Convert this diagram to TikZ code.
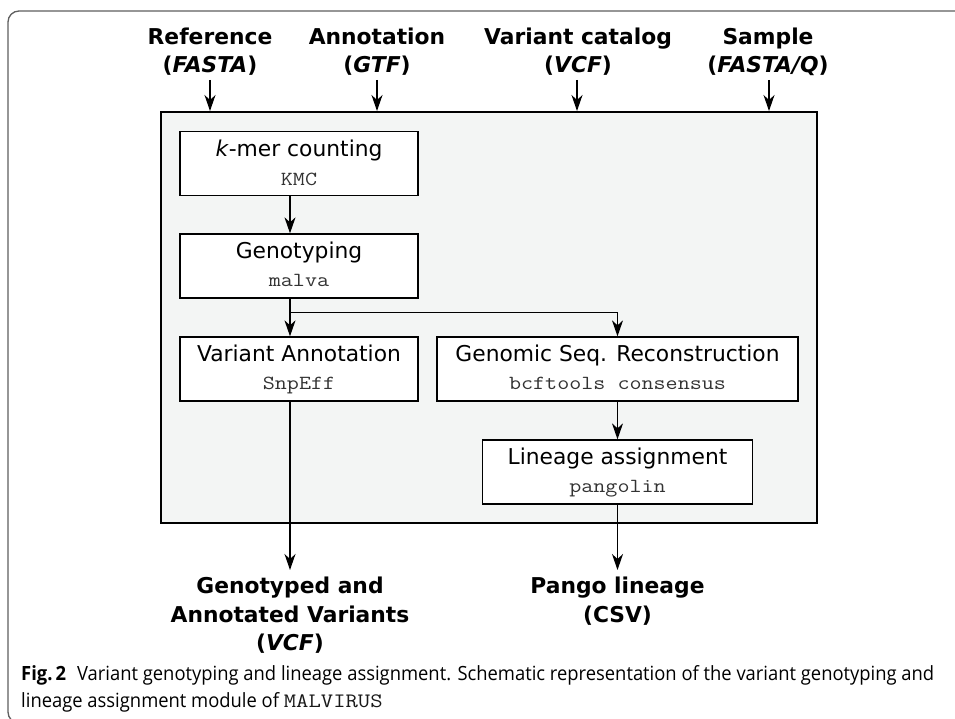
\documentclass[tikz,border=0pt]{standalone}
\usepackage{fontspec}
\usepackage{graphicx}
\usetikzlibrary{arrows.meta,calc}
\newfontfamily\labfont{DejaVu Sans}
\newfontfamily\capfont{Open Sans}
\newfontfamily\monofont{Latin Modern Mono}[FakeStretch=1.17]
\definecolor{panel}{RGB}{243,245,244}
\definecolor{framegray}{RGB}{95,95,95}
\newsavebox\capboxA
\newsavebox\capboxB
\begin{document}
\sbox\capboxA{\capfont\fontsize{19.6}{24}\selectfont{\bfseries Fig.\,2}\hspace{0.6em}Variant genotyping and lineage assignment. Schematic representation of the variant genotyping and}%
\sbox\capboxB{\capfont\fontsize{19.6}{24}\selectfont lineage assignment module of\ }%
\pgfmathsetmacro\capr{913/\wd\capboxA}%
\begin{tikzpicture}[x=1pt,y=-1pt,
  arr/.style={-{Stealth[length=16pt,width=11pt,inset=5pt]}, line width=1.3pt},
  plain/.style={line width=1.3pt},
  proc/.style={draw, line width=1.3pt, fill=white, inner sep=0pt, minimum width=238pt, minimum height=64pt},
  bigbox/.style={draw, line width=2pt, fill=panel, inner sep=0pt, minimum width=656pt, minimum height=411pt},
  ttl/.style={font=\labfont\fontsize{21.8}{26}\selectfont, inner sep=0pt, anchor=base},
  mono/.style={font=\monofont\fontsize{20}{24}\selectfont, text=black!80, inner sep=0pt, anchor=base},
  iolab/.style={font=\labfont\bfseries\fontsize{21.8}{28.5}\selectfont, align=center, inner sep=0pt}
]
\useasboundingbox (0,0) rectangle (955,719);
\fill[white] (0,0) rectangle (955,719);
\begin{scope}
  \clip (0,0) rectangle (955,719);
  \draw[framegray, line width=1.3pt, rounded corners=11pt] (8,11) rectangle (1000,723);
\end{scope}

% main panel
\node[bigbox] (big) at (489,317.5) {};

% column coordinates
\coordinate (ax) at (290,0);

% inputs
\node[iolab, anchor=south] (inref) at (210,76) {Reference\\(\textit{FASTA})};
\node[iolab, anchor=south] (inann) at (377,76) {Annotation\\(\textit{GTF})};
\node[iolab, anchor=south] (invcf) at (578,76) {Variant catalog\\(\textit{VCF})};
\node[iolab, anchor=south] (insmp) at (768,76) {Sample\\(\textit{FASTA/Q})};
\draw[arr, shorten <=4pt] (inref.south) -- (inref.south |- big.north);
\draw[arr, shorten <=4pt] (inann.south) -- (inann.south |- big.north);
\draw[arr, shorten <=4pt] ([xshift=-1pt]invcf.south) -- ([xshift=-1pt]invcf.south |- big.north);
\draw[arr, shorten <=4pt] ([xshift=1pt]insmp.south) -- ([xshift=1pt]insmp.south |- big.north);

% process boxes
\node[proc] (kmer) at (299,163.5) {};
\node[ttl] (kmerT) at ($(kmer.north)+(0,26)$) {\textit{k}-mer counting};
\node[mono] (kmerM) at ($(kmer.north)+(0,54.5)$) {KMC};

\node[proc] (geno) at (299,266) {};
\node[ttl] (genoT) at ($(geno.north)+(0,25.5)$) {Genotyping};
\node[mono] (genoM) at ($(geno.north)+(0,53.5)$) {malva};

\node[proc] (va) at (299,369) {};
\node[ttl] (vaT) at ($(va.north)+(0,25.5)$) {Variant Annotation};
\node[mono] (vaM) at ($(va.north)+(0,53.5)$) {SnpEff};

\node[proc, minimum width=361pt] (gsr) at (617.5,369) {};
\node[ttl] (gsrT) at ($(gsr.north)+(0,25.5)$) {Genomic Seq. Reconstruction};
\node[mono] (gsrM) at ($(gsr.north)+(0,53.5)$) {bcftools consensus};

\node[proc, minimum width=270pt] (lin) at (617.5,472) {};
\node[ttl] (linT) at ($(lin.north)+(0,25.5)$) {Lineage assignment};
\node[mono] (linM) at ($(lin.north)+(0,53.5)$) {pangolin};

% outputs
\node[iolab, anchor=north] (outvar) at (290,577) {Genotyped and\\Annotated Variants\\(\textit{VCF})};
\node[iolab, anchor=north] (outpan) at (617.5,577) {Pango lineage\\(CSV)};

% connectors
\draw[arr] (kmer.south -| ax) -- (geno.north -| ax);
\draw[arr] (geno.south -| ax) -- (va.north -| ax);
\draw[arr] ($(geno.south -| ax)+(0,14)$) -| (gsr.north);
\draw[arr] (gsr.south) -- (lin.north);
\draw[arr, shorten >=7pt] (va.south -| ax) -- (outvar.north);
\draw[arr, shorten >=7pt] (lin.south) -- (outpan.north);

% caption
\node[anchor=base west, inner sep=0pt, text=black!90] (cap1) at (21,680) {\scalebox{\capr}[1]{\usebox\capboxA}};
\node[anchor=base west, inner sep=0pt, text=black!90] (cap2) at (21,707) {\scalebox{\capr}[1]{\usebox\capboxB}{\monofont\fontsize{20.5}{24}\selectfont MALVIRUS}};
\end{tikzpicture}
\end{document}
